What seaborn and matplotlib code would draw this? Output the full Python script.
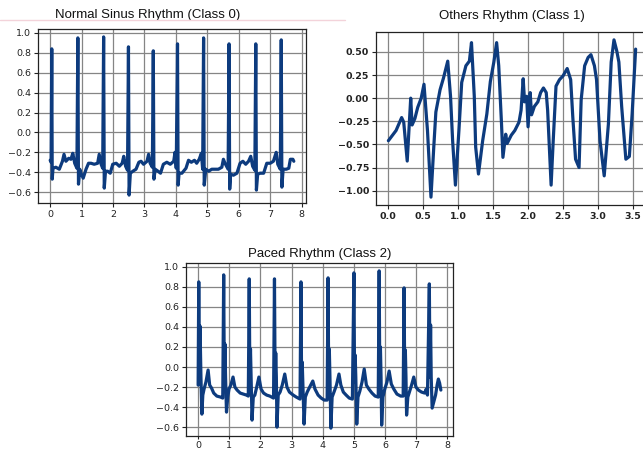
import matplotlib
matplotlib.use("Agg")
import matplotlib.pyplot as plt
from matplotlib.lines import Line2D
import seaborn as sns
import numpy as np

# ---------------- data ----------------
normal_t = [0.00, 0.03, 0.05, 0.065, 0.09, 0.18, 0.29, 0.39, 0.44, 0.50, 0.59, 0.66, 0.72, 0.78, 0.85,
            0.88, 0.90, 0.94, 0.98, 1.05, 1.14, 1.22, 1.30, 1.40, 1.51, 1.56, 1.62, 1.67,
            1.70, 1.72, 1.76, 1.83, 1.91, 1.99, 2.10, 2.20, 2.29, 2.34, 2.40, 2.46,
            2.49, 2.51, 2.55, 2.63, 2.73, 2.82, 2.89, 2.97, 3.08, 3.13, 3.18, 3.25,
            3.28, 3.30, 3.34, 3.43, 3.51, 3.60, 3.71, 3.82, 3.93, 3.97, 4.01,
            4.05, 4.07, 4.10, 4.19, 4.32, 4.40, 4.49, 4.59, 4.66, 4.74, 4.81, 4.85,
            4.88, 4.90, 4.95, 5.04, 5.14, 5.25, 5.35, 5.46, 5.51, 5.56, 5.66,
            5.69, 5.71, 5.74, 5.83, 5.94, 6.04, 6.13, 6.22, 6.31, 6.38, 6.44, 6.51,
            6.54, 6.56, 6.60, 6.68, 6.79, 6.89, 7.00, 7.10, 7.19, 7.24, 7.32,
            7.35, 7.37, 7.41, 7.51, 7.59, 7.64, 7.72, 7.75]
normal_v = [-0.28, -0.30, 0.84, -0.47, -0.36, -0.35, -0.37, -0.29, -0.22, -0.29, -0.26, -0.27, -0.21, -0.31, -0.36,
            0.95, -0.52, -0.37, -0.41, -0.46, -0.37, -0.31, -0.31, -0.32, -0.31, -0.22, -0.32, -0.36,
            0.96, -0.56, -0.39, -0.39, -0.41, -0.32, -0.31, -0.34, -0.31, -0.24, -0.34, -0.38,
            0.86, -0.63, -0.41, -0.39, -0.37, -0.30, -0.29, -0.32, -0.29, -0.22, -0.31, -0.35,
            0.82, -0.47, -0.37, -0.39, -0.41, -0.32, -0.30, -0.32, -0.29, -0.20, -0.36,
            0.89, -0.53, -0.41, -0.41, -0.36, -0.28, -0.30, -0.28, -0.31, -0.27, -0.21, -0.37,
            0.95, -0.53, -0.37, -0.39, -0.37, -0.37, -0.37, -0.35, -0.27, -0.31, -0.37,
            0.89, -0.57, -0.42, -0.43, -0.41, -0.31, -0.29, -0.32, -0.29, -0.24, -0.34, -0.38,
            0.89, -0.58, -0.42, -0.41, -0.41, -0.31, -0.31, -0.29, -0.20, -0.32, -0.37,
            0.93, -0.55, -0.37, -0.37, -0.36, -0.27, -0.27, -0.29]

others_t = [0.00, 0.04, 0.11, 0.19, 0.22, 0.27, 0.32, 0.34, 0.38, 0.42, 0.47, 0.51, 0.56, 0.61, 0.65,
            0.68, 0.74, 0.79, 0.85, 0.89, 0.92, 0.96, 1.01, 1.05, 1.11, 1.16, 1.19, 1.23, 1.25,
            1.29, 1.35, 1.41, 1.46, 1.51, 1.55, 1.58, 1.62, 1.64, 1.68, 1.70, 1.76, 1.81, 1.87,
            1.90, 1.93, 1.95, 1.98, 2.00, 2.03, 2.05, 2.09, 2.14, 2.18, 2.22, 2.26, 2.28, 2.33,
            2.36, 2.40, 2.45, 2.50, 2.56, 2.61, 2.64, 2.68, 2.73, 2.76, 2.81, 2.86, 2.90, 2.95,
            2.98, 3.03, 3.09, 3.15, 3.19, 3.23, 3.27, 3.30, 3.34, 3.40, 3.45, 3.49, 3.54]
others_v = [-0.46, -0.42, -0.35, -0.21, -0.26, -0.68, 0.00, -0.29, -0.22, -0.10, 0.00, 0.15, -0.35, -1.07, -0.53,
            -0.15, 0.09, 0.22, 0.40, 0.02, -0.46, -0.94, -0.35, 0.17, 0.35, 0.40, 0.60, 0.02, -0.53,
            -0.82, -0.46, -0.17, 0.18, 0.39, 0.60, 0.35, -0.28, -0.64, -0.39, -0.49, -0.40, -0.35, -0.26,
            -0.13, 0.21, -0.04, 0.02, -0.31, 0.06, -0.18, -0.09, -0.04, 0.06, 0.11, 0.06, -0.13, -0.94,
            -0.46, 0.13, 0.20, 0.24, 0.32, 0.20, -0.20, -0.66, -0.75, -0.02, 0.35, 0.44, 0.47, 0.35,
            0.20, -0.46, -0.84, -0.28, 0.39, 0.63, 0.51, 0.39, -0.09, -0.66, -0.63, -0.17, 0.53]

paced_t = [0.00, 0.02, 0.04, 0.06, 0.09, 0.12, 0.15, 0.19, 0.25, 0.32, 0.37, 0.43, 0.50, 0.60, 0.72, 0.79,
           0.82, 0.84, 0.86, 0.88, 0.91, 0.95, 0.99, 1.05, 1.12, 1.18, 1.25, 1.35, 1.45, 1.55, 1.61,
           1.64, 1.66, 1.68, 1.70, 1.73, 1.77, 1.82, 1.88, 1.95, 2.02, 2.10, 2.20, 2.30, 2.42,
           2.45, 2.47, 2.49, 2.51, 2.53, 2.57, 2.63, 2.70, 2.78, 2.85, 2.93, 3.05, 3.15, 3.27,
           3.30, 3.32, 3.34, 3.36, 3.40, 3.44, 3.50, 3.58, 3.68, 3.75, 3.85, 3.95, 4.05, 4.14,
           4.17, 4.19, 4.21, 4.23, 4.26, 4.30, 4.36, 4.44, 4.52, 4.58, 4.66, 4.75, 4.85, 4.95,
           5.00, 5.02, 5.04, 5.06, 5.09, 5.13, 5.19, 5.26, 5.33, 5.40, 5.48, 5.58, 5.68, 5.78,
           5.81, 5.83, 5.85, 5.87, 5.89, 5.93, 5.99, 6.06, 6.13, 6.20, 6.28, 6.38, 6.50, 6.58,
           6.61, 6.63, 6.65, 6.67, 6.69, 6.73, 6.79, 6.85, 6.92, 6.99, 7.07, 7.17, 7.27, 7.32, 7.36,
           7.42, 7.44, 7.46, 7.48, 7.51, 7.56, 7.62, 7.67, 7.71, 7.75, 7.79]
paced_v = [-0.18, 0.85, -0.10, 0.41, -0.10, -0.47, -0.28, -0.22, -0.15, -0.03, -0.18, -0.21, -0.26, -0.29, -0.30, -0.31,
           0.92, -0.15, 0.23, -0.10, -0.45, -0.30, -0.22, -0.18, -0.10, -0.20, -0.23, -0.26, -0.27, -0.28, -0.29,
           0.88, -0.15, 0.18, -0.10, -0.53, -0.30, -0.28, -0.20, -0.10, -0.22, -0.26, -0.28, -0.29, -0.31,
           0.88, -0.15, 0.14, -0.10, -0.60, -0.28, -0.25, -0.18, -0.07, -0.20, -0.25, -0.28, -0.30, -0.32,
           0.85, -0.15, 0.05, -0.15, -0.57, -0.30, -0.25, -0.20, -0.14, -0.22, -0.28, -0.31, -0.33, -0.33,
           0.89, -0.15, 0.18, -0.10, -0.61, -0.30, -0.25, -0.18, -0.07, -0.18, -0.25, -0.28, -0.31, -0.32,
           0.94, -0.15, 0.12, -0.10, -0.57, -0.30, -0.24, -0.15, -0.02, -0.18, -0.22, -0.26, -0.29, -0.30,
           0.96, -0.15, 0.20, -0.10, -0.58, -0.30, -0.22, -0.15, -0.04, -0.17, -0.22, -0.27, -0.29, -0.29,
           0.79, -0.15, 0.17, -0.10, -0.48, -0.30, -0.24, -0.18, -0.10, -0.20, -0.23, -0.25, -0.26, -0.22, -0.28,
           0.83, -0.10, 0.42, -0.10, -0.41, -0.35, -0.28, -0.18, -0.12, -0.16, -0.23]

titles = ["Normal Sinus Rhythm (Class 0)", "Others Rhythm (Class 1)", "Paced Rhythm (Class 2)"]

# ---------------- style ----------------
sns.set_theme(style="ticks")
plt.rcParams['font.family'] = ['DejaVu Sans']

LINE = "#0d3b7e"
GRID = "#858585"
W, H = 643, 450

fig = plt.figure(figsize=(W / 100, H / 100), dpi=100)

def px_axes(left, top, right, bottom):
    return fig.add_axes([left / W, 1 - bottom / H, (right - left) / W, (bottom - top) / H])

ax0 = px_axes(38, 29, 306, 203)
ax1 = px_axes(376, 32, 648, 205)
ax2 = px_axes(186, 263, 453, 436)

series = [(ax0, normal_t, normal_v), (ax1, others_t, others_v), (ax2, paced_t, paced_v)]
for ax, t, v in series:
    sns.lineplot(x=t, y=v, ax=ax, color=LINE, linewidth=2.3, estimator=None, sort=False)
    ax.grid(True, color=GRID, linewidth=0.9)
    ax.set_axisbelow(True)
    for s in ax.spines.values():
        s.set_color("#222222")
        s.set_linewidth(0.9)
    ax.tick_params(labelsize=6.8, length=3, width=0.8, colors="#222222", pad=2)
    ax.set_xlabel("")
    ax.set_ylabel("")

ax2.tick_params(axis="x", length=2.5, pad=1.2)

ax1.set_yticks([-1.0, -0.75, -0.5, -0.25, 0.0, 0.25, 0.5])
ax1.set_xticks([0.0, 0.5, 1.0, 1.5, 2.0, 2.5, 3.0, 3.5])
for lab in ax1.get_xticklabels() + ax1.get_yticklabels():
    lab.set_fontweight("bold")

title_font = dict(fontsize=9.5, color="#111111", family=["Liberation Sans", "DejaVu Sans"])
ax0.set_title(titles[0], x=0.41, pad=8, **title_font)
ax1.set_title(titles[1], pad=9, **title_font)
ax2.set_title(titles[2], pad=4, **title_font)

# faint pink rule under the first title (present in the reference image)
fig.add_artist(Line2D([0.0, 345 / W], [1 - 20 / H, 1 - 20 / H], color="#f3d3da",
                      linewidth=1.0, transform=fig.transFigure))

fig.savefig("out.png", dpi=100)
